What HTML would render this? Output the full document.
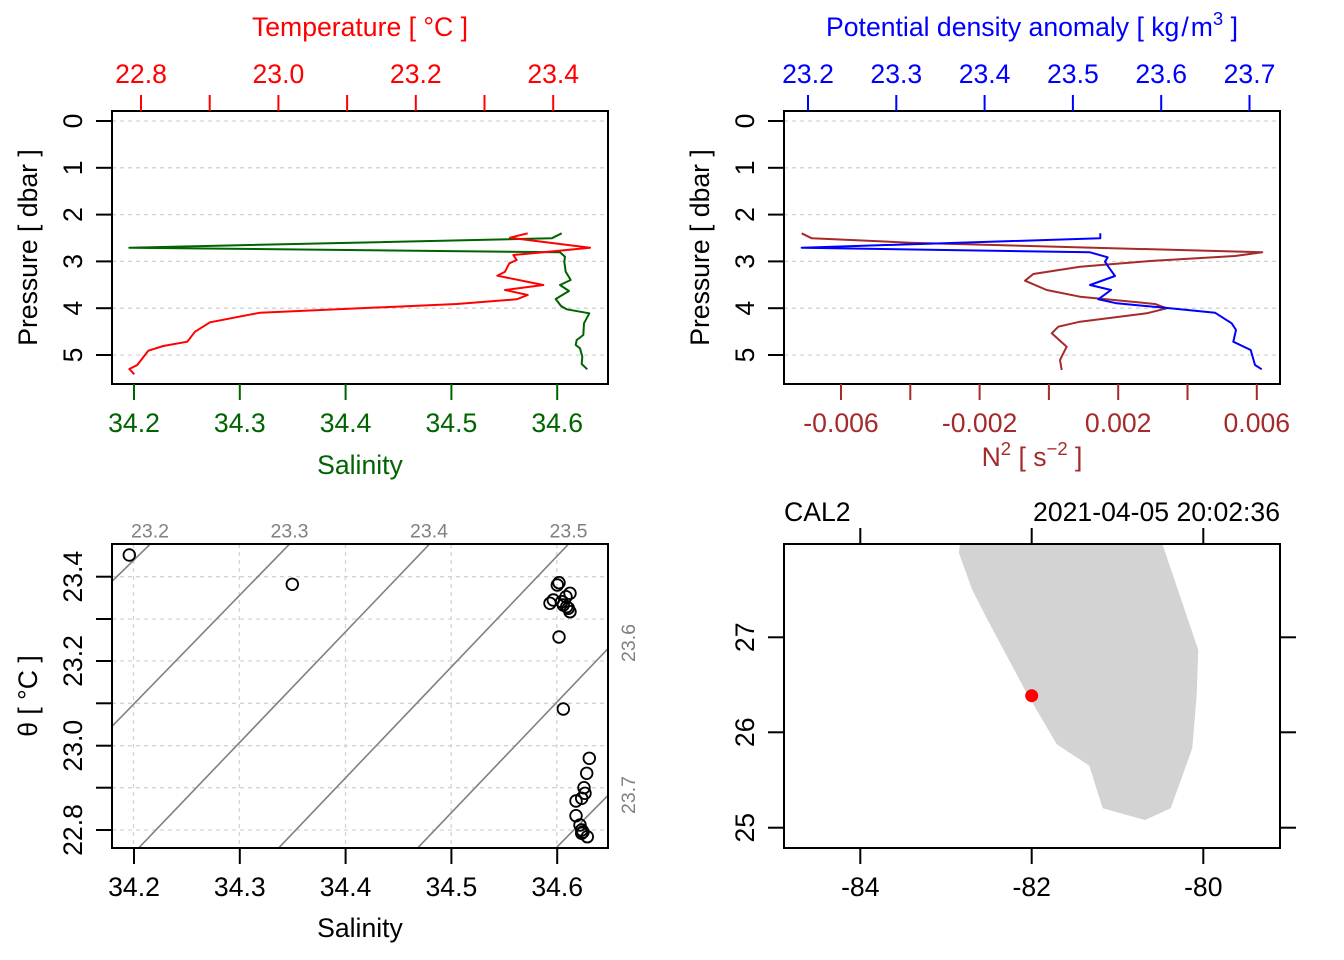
<!DOCTYPE html>
<html><head><meta charset="utf-8"><style>
html,body{margin:0;padding:0;background:#fff;}
svg{display:block;}
text{font-family:"Liberation Sans",sans-serif;}
</style></head><body>
<svg width="1344" height="960" viewBox="0 0 1344 960" xmlns="http://www.w3.org/2000/svg">
<defs>
<clipPath id="c1"><rect x="112" y="111" width="496" height="273"/></clipPath>
<clipPath id="c2"><rect x="784" y="111" width="496" height="273"/></clipPath>
<clipPath id="c3"><rect x="112" y="544" width="496" height="304"/></clipPath>
<clipPath id="c4"><rect x="784" y="544" width="496" height="304"/></clipPath>
</defs>
<rect width="1344" height="960" fill="#fff"/>

<!-- ============ TOP LEFT ============ -->
<g stroke="#D3D3D3" stroke-width="1.3" stroke-dasharray="4,4" fill="none">
<line x1="112" y1="121" x2="608" y2="121"/><line x1="112" y1="167.8" x2="608" y2="167.8"/>
<line x1="112" y1="214.6" x2="608" y2="214.6"/><line x1="112" y1="261.4" x2="608" y2="261.4"/>
<line x1="112" y1="308.2" x2="608" y2="308.2"/><line x1="112" y1="355" x2="608" y2="355"/>
</g>
<g clip-path="url(#c1)" fill="none" stroke-width="2" stroke-linejoin="round">
<polyline stroke="#006400" points="561.7,233.3 551.7,238.3 129.3,247.7 560,252.3 565,256.7 564.3,261.7 565.7,271.7 570.7,280 560,285 569,291 555.7,299 561,306 566.7,309.3 589.3,313.3 584,323.3 583.3,335 576.7,340 575.7,345 580,348.3 582.3,356.7 581.7,364 587.3,369.3"/>
<polyline stroke="#FF0000" points="527.7,233.3 510,237.7 590,247.7 543.3,252.3 513.3,255 516.7,260 509.3,263.3 505,271.7 497.3,275.7 543.3,285 505,290 527.7,295 516.7,299.3 456.7,304 260,312.7 210,322.3 195,331.7 187.3,341.7 163.3,346 148.3,350.7 137.3,365 129.3,369 134.3,374.3"/>
</g>
<rect x="112" y="111" width="496" height="273" fill="none" stroke="#000" stroke-width="2"/>
<g stroke="#FF0000" stroke-width="2">
<line x1="141" y1="95" x2="141" y2="111"/><line x1="209.7" y1="95" x2="209.7" y2="111"/>
<line x1="278.4" y1="95" x2="278.4" y2="111"/><line x1="347.1" y1="95" x2="347.1" y2="111"/>
<line x1="415.8" y1="95" x2="415.8" y2="111"/><line x1="484.5" y1="95" x2="484.5" y2="111"/>
<line x1="553.2" y1="95" x2="553.2" y2="111"/>
</g>
<g fill="#FF0000" font-size="26.6" text-anchor="middle">
<text x="141" y="83">22.8</text><text x="278.4" y="83">23.0</text>
<text x="415.8" y="83">23.2</text><text x="553.2" y="83">23.4</text>
<text x="360" y="36">Temperature [ °C ]</text>
</g>
<g stroke="#000" stroke-width="2">
<line x1="96" y1="121" x2="112" y2="121"/><line x1="96" y1="167.8" x2="112" y2="167.8"/>
<line x1="96" y1="214.6" x2="112" y2="214.6"/><line x1="96" y1="261.4" x2="112" y2="261.4"/>
<line x1="96" y1="308.2" x2="112" y2="308.2"/><line x1="96" y1="355" x2="112" y2="355"/>
</g>
<g fill="#000" font-size="26.6" text-anchor="middle">
<text transform="translate(82,121) rotate(-90)">0</text>
<text transform="translate(82,167.8) rotate(-90)">1</text>
<text transform="translate(82,214.6) rotate(-90)">2</text>
<text transform="translate(82,261.4) rotate(-90)">3</text>
<text transform="translate(82,308.2) rotate(-90)">4</text>
<text transform="translate(82,355) rotate(-90)">5</text>
<text transform="translate(37,247.5) rotate(-90)">Pressure [ dbar ]</text>
</g>
<g stroke="#006400" stroke-width="2">
<line x1="134" y1="384" x2="134" y2="400"/><line x1="239.8" y1="384" x2="239.8" y2="400"/>
<line x1="345.6" y1="384" x2="345.6" y2="400"/><line x1="451.4" y1="384" x2="451.4" y2="400"/>
<line x1="557.2" y1="384" x2="557.2" y2="400"/>
</g>
<g fill="#006400" font-size="26.6" text-anchor="middle">
<text x="134" y="432">34.2</text><text x="239.8" y="432">34.3</text>
<text x="345.6" y="432">34.4</text><text x="451.4" y="432">34.5</text>
<text x="557.2" y="432">34.6</text>
<text x="360" y="474">Salinity</text>
</g>

<!-- ============ TOP RIGHT ============ -->
<g stroke="#D3D3D3" stroke-width="1.3" stroke-dasharray="4,4" fill="none">
<line x1="784" y1="121" x2="1280" y2="121"/><line x1="784" y1="167.8" x2="1280" y2="167.8"/>
<line x1="784" y1="214.6" x2="1280" y2="214.6"/><line x1="784" y1="261.4" x2="1280" y2="261.4"/>
<line x1="784" y1="308.2" x2="1280" y2="308.2"/><line x1="784" y1="355" x2="1280" y2="355"/>
</g>
<g clip-path="url(#c2)" fill="none" stroke-width="2" stroke-linejoin="round">
<polyline stroke="#A52A2A" points="801.7,233.3 811.7,238.3 910,242.7 1262.3,252.3 1235,256 1150,261 1080,266.7 1033.3,274 1025,280.7 1046.7,290 1080,296.7 1155,304 1166.7,308.3 1146.7,313.3 1080,321.7 1058.3,326.7 1051.7,333.3 1066.7,346.7 1063.3,353.3 1060,360 1061.7,370"/>
<polyline stroke="#0000FF" points="1100.3,233.3 1100.3,238.3 801.7,247.7 1090,252.3 1107.7,257.3 1105,261.7 1108.3,266.7 1115,276 1090,285 1111,290 1098.3,299.3 1116.7,303.3 1170,308.3 1215,312.7 1231.7,323.3 1236,330 1233.3,341.7 1250.7,350 1255,365 1261.7,369.3"/>
</g>
<rect x="784" y="111" width="496" height="273" fill="none" stroke="#000" stroke-width="2"/>
<g stroke="#0000FF" stroke-width="2">
<line x1="808" y1="95" x2="808" y2="111"/><line x1="896.3" y1="95" x2="896.3" y2="111"/>
<line x1="984.6" y1="95" x2="984.6" y2="111"/><line x1="1072.9" y1="95" x2="1072.9" y2="111"/>
<line x1="1161.2" y1="95" x2="1161.2" y2="111"/><line x1="1249.5" y1="95" x2="1249.5" y2="111"/>
</g>
<g fill="#0000FF" font-size="26.6" text-anchor="middle">
<text x="808" y="83">23.2</text><text x="896.3" y="83">23.3</text>
<text x="984.6" y="83">23.4</text><text x="1072.9" y="83">23.5</text>
<text x="1161.2" y="83">23.6</text><text x="1249.5" y="83">23.7</text>
<text x="1032" y="36">Potential density anomaly [ kg<tspan dx="2">/</tspan><tspan dx="2">m</tspan><tspan font-size="18.5" dy="-11">3</tspan><tspan dy="11"> ]</tspan></text>
</g>
<g stroke="#000" stroke-width="2">
<line x1="768" y1="121" x2="784" y2="121"/><line x1="768" y1="167.8" x2="784" y2="167.8"/>
<line x1="768" y1="214.6" x2="784" y2="214.6"/><line x1="768" y1="261.4" x2="784" y2="261.4"/>
<line x1="768" y1="308.2" x2="784" y2="308.2"/><line x1="768" y1="355" x2="784" y2="355"/>
</g>
<g fill="#000" font-size="26.6" text-anchor="middle">
<text transform="translate(754,121) rotate(-90)">0</text>
<text transform="translate(754,167.8) rotate(-90)">1</text>
<text transform="translate(754,214.6) rotate(-90)">2</text>
<text transform="translate(754,261.4) rotate(-90)">3</text>
<text transform="translate(754,308.2) rotate(-90)">4</text>
<text transform="translate(754,355) rotate(-90)">5</text>
<text transform="translate(709,247.5) rotate(-90)">Pressure [ dbar ]</text>
</g>
<g stroke="#A52A2A" stroke-width="2">
<line x1="841" y1="384" x2="841" y2="400"/><line x1="910.3" y1="384" x2="910.3" y2="400"/>
<line x1="979.6" y1="384" x2="979.6" y2="400"/><line x1="1048.9" y1="384" x2="1048.9" y2="400"/>
<line x1="1118.2" y1="384" x2="1118.2" y2="400"/><line x1="1187.5" y1="384" x2="1187.5" y2="400"/>
<line x1="1256.8" y1="384" x2="1256.8" y2="400"/>
</g>
<g fill="#A52A2A" font-size="26.6" text-anchor="middle">
<text x="841" y="432">-0.006</text><text x="979.6" y="432">-0.002</text>
<text x="1118.2" y="432">0.002</text><text x="1256.8" y="432">0.006</text>
<text x="1032" y="466">N<tspan font-size="18.5" dy="-11">2</tspan><tspan dy="11"> [ s</tspan><tspan font-size="18.5" dy="-11">−2</tspan><tspan dy="11"> ]</tspan></text>
</g>

<!-- ============ BOTTOM LEFT ============ -->
<g stroke="#D3D3D3" stroke-width="1.3" stroke-dasharray="4,4" fill="none">
<line x1="133.5" y1="544" x2="133.5" y2="848"/><line x1="239.3" y1="544" x2="239.3" y2="848"/>
<line x1="345.5" y1="544" x2="345.5" y2="848"/><line x1="451.2" y1="544" x2="451.2" y2="848"/>
<line x1="556.8" y1="544" x2="556.8" y2="848"/>
<line x1="112" y1="576.7" x2="608" y2="576.7"/><line x1="112" y1="619" x2="608" y2="619"/>
<line x1="112" y1="661" x2="608" y2="661"/><line x1="112" y1="703.3" x2="608" y2="703.3"/>
<line x1="112" y1="745.7" x2="608" y2="745.7"/><line x1="112" y1="787.7" x2="608" y2="787.7"/>
<line x1="112" y1="830" x2="608" y2="830"/>
</g>
<g clip-path="url(#c3)" stroke="#808080" stroke-width="1.6" fill="none">
<line x1="111.7" y1="581.7" x2="150" y2="544.3"/>
<line x1="111.7" y1="726.7" x2="289.3" y2="544.3"/>
<line x1="139.3" y1="847.3" x2="429.3" y2="544.3"/>
<line x1="279.3" y1="847.3" x2="568.3" y2="544.3"/>
<line x1="418.3" y1="847.3" x2="608.3" y2="648.3"/>
<line x1="556.7" y1="847.3" x2="608.3" y2="795"/>
</g>
<g fill="none" stroke="#000" stroke-width="1.8">
<circle cx="129.3" cy="555" r="5.8"/>
<circle cx="292.3" cy="584.3" r="5.8"/>
<circle cx="559" cy="582.7" r="5.8"/>
<circle cx="557.3" cy="585" r="5.8"/>
<circle cx="570" cy="593.3" r="5.8"/>
<circle cx="566" cy="596.7" r="5.8"/>
<circle cx="553.3" cy="600" r="5.8"/>
<circle cx="550" cy="603.3" r="5.8"/>
<circle cx="561.7" cy="601.7" r="5.8"/>
<circle cx="563.3" cy="605" r="5.8"/>
<circle cx="566.7" cy="606.7" r="5.8"/>
<circle cx="568.3" cy="608.3" r="5.8"/>
<circle cx="570" cy="611.7" r="5.8"/>
<circle cx="559" cy="637" r="5.8"/>
<circle cx="563.3" cy="709" r="5.8"/>
<circle cx="589.3" cy="758.3" r="5.8"/>
<circle cx="586.7" cy="773.3" r="5.8"/>
<circle cx="584" cy="787.7" r="5.8"/>
<circle cx="585" cy="793.3" r="5.8"/>
<circle cx="581.7" cy="798.3" r="5.8"/>
<circle cx="576" cy="801" r="5.8"/>
<circle cx="576" cy="815.7" r="5.8"/>
<circle cx="580" cy="825" r="5.8"/>
<circle cx="581.7" cy="830" r="5.8"/>
<circle cx="583" cy="832" r="5.8"/>
<circle cx="581.7" cy="833.3" r="5.8"/>
<circle cx="587.3" cy="836.7" r="5.8"/>
</g>
<rect x="112" y="544" width="496" height="304" fill="none" stroke="#000" stroke-width="2"/>
<g fill="#808080" font-size="19.5" text-anchor="middle">
<text x="150" y="537.5">23.2</text><text x="289.5" y="537.5">23.3</text>
<text x="429" y="537.5">23.4</text><text x="568.5" y="537.5">23.5</text>
<text transform="translate(635,643) rotate(-90)">23.6</text>
<text transform="translate(635,795) rotate(-90)">23.7</text>
</g>
<g stroke="#000" stroke-width="2">
<line x1="134" y1="848" x2="134" y2="864"/><line x1="239.8" y1="848" x2="239.8" y2="864"/>
<line x1="345.6" y1="848" x2="345.6" y2="864"/><line x1="451.4" y1="848" x2="451.4" y2="864"/>
<line x1="557.2" y1="848" x2="557.2" y2="864"/>
<line x1="96" y1="576.7" x2="112" y2="576.7"/><line x1="96" y1="619" x2="112" y2="619"/>
<line x1="96" y1="661" x2="112" y2="661"/><line x1="96" y1="703.3" x2="112" y2="703.3"/>
<line x1="96" y1="745.7" x2="112" y2="745.7"/><line x1="96" y1="787.7" x2="112" y2="787.7"/>
<line x1="96" y1="830" x2="112" y2="830"/>
</g>
<g fill="#000" font-size="26.6" text-anchor="middle">
<text x="134" y="896">34.2</text><text x="239.8" y="896">34.3</text>
<text x="345.6" y="896">34.4</text><text x="451.4" y="896">34.5</text>
<text x="557.2" y="896">34.6</text>
<text x="360" y="937">Salinity</text>
<text transform="translate(82,830) rotate(-90)">22.8</text>
<text transform="translate(82,745.7) rotate(-90)">23.0</text>
<text transform="translate(82,661) rotate(-90)">23.2</text>
<text transform="translate(82,576.7) rotate(-90)">23.4</text>
<text transform="translate(37,696) rotate(-90)">θ [ °C ]</text>
</g>

<!-- ============ BOTTOM RIGHT ============ -->
<g clip-path="url(#c4)">
<polygon fill="#D3D3D3" points="960,540 959,553.3 972.3,590 986.7,618.3 1025,690 1056.7,744.3 1089.3,765.7 1102.7,808.3 1145,820 1170.7,808.3 1192.3,748.3 1196.7,695 1198.3,650 1161,540"/>
<circle cx="1031.7" cy="695.7" r="6.5" fill="#FF0000"/>
</g>
<rect x="784" y="544" width="496" height="304" fill="none" stroke="#000" stroke-width="2"/>
<g stroke="#000" stroke-width="2">
<line x1="860.3" y1="528" x2="860.3" y2="544"/><line x1="1031.7" y1="528" x2="1031.7" y2="544"/>
<line x1="1203.3" y1="528" x2="1203.3" y2="544"/>
<line x1="860.3" y1="848" x2="860.3" y2="864"/><line x1="1031.7" y1="848" x2="1031.7" y2="864"/>
<line x1="1203.3" y1="848" x2="1203.3" y2="864"/>
<line x1="768" y1="637.3" x2="784" y2="637.3"/><line x1="768" y1="732.3" x2="784" y2="732.3"/>
<line x1="768" y1="827.7" x2="784" y2="827.7"/>
<line x1="1280" y1="637.3" x2="1296" y2="637.3"/><line x1="1280" y1="732.3" x2="1296" y2="732.3"/>
<line x1="1280" y1="827.7" x2="1296" y2="827.7"/>
</g>
<g fill="#000" font-size="26.6">
<text x="784" y="521">CAL2</text>
<text x="1280" y="521" text-anchor="end">2021-04-05 20:02:36</text>
<g text-anchor="middle">
<text x="860.3" y="896">-84</text><text x="1031.7" y="896">-82</text><text x="1203.3" y="896">-80</text>
<text transform="translate(754,827.7) rotate(-90)">25</text>
<text transform="translate(754,732.3) rotate(-90)">26</text>
<text transform="translate(754,637.3) rotate(-90)">27</text>
</g>
</g>
</svg>
</body></html>
